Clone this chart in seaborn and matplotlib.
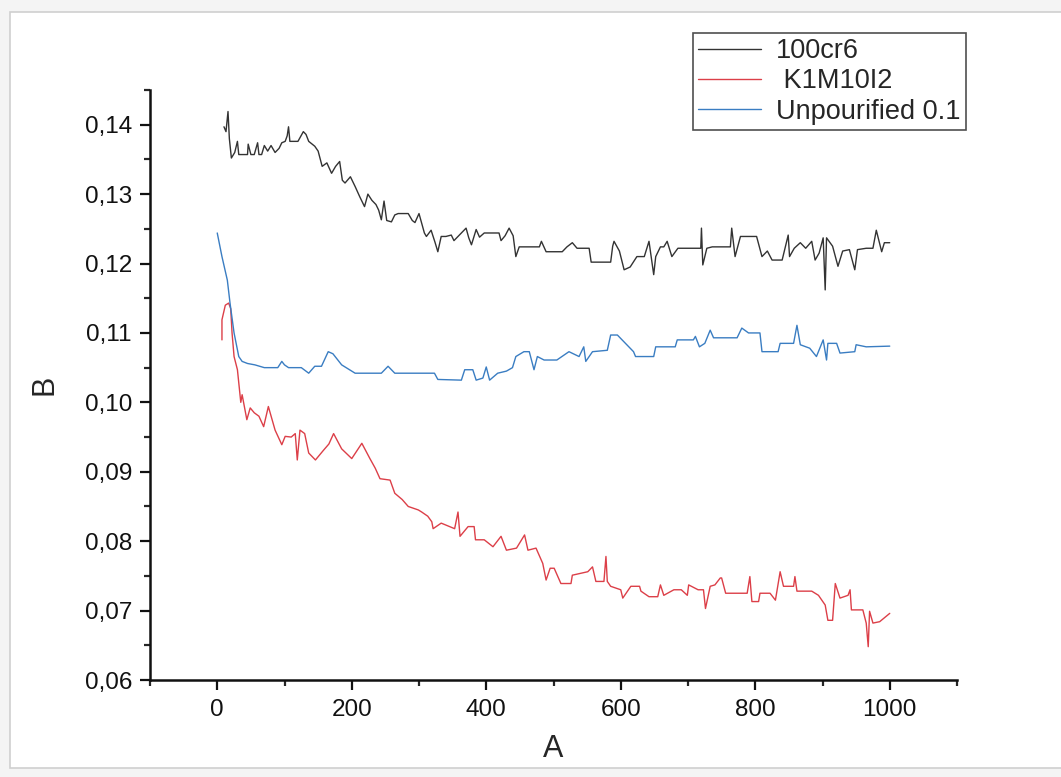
import matplotlib
matplotlib.use("Agg")
import matplotlib.pyplot as plt
from matplotlib.patches import Rectangle
from matplotlib.ticker import MultipleLocator, FuncFormatter
import pandas as pd
import seaborn as sns

# 100cr6
x_cr6 = [10, 13, 16, 18, 21, 26, 30, 32, 38, 45, 46, 50, 55, 60, 62, 66, 70, 75, 80, 86, 92, 96,
         101, 104, 106, 108, 115, 120, 128, 132, 136, 145, 150, 156, 163, 170, 176, 182, 186, 190,
         198, 205, 212, 219, 224, 230, 236, 240, 244, 248, 252, 259, 264, 269, 276, 284, 290, 294,
         300, 304, 308, 311, 318, 324, 328, 333, 340, 348, 352, 360, 370, 374, 378, 385, 390, 397,
         408, 419, 422, 428, 434, 440, 444, 449, 460, 479, 482, 489, 500, 513, 520, 528, 535, 553,
         556, 570, 585, 588, 590, 598, 605, 614, 624, 635, 642, 649, 652, 659, 664, 669, 676, 685,
         693, 705, 719, 720, 722, 728, 736, 750, 763, 765, 770, 778, 790, 802, 810, 818, 825, 840,
         849, 851, 858, 867, 875, 884, 889, 895, 901, 904, 906, 915, 923, 930, 940, 948, 952, 965,
         975, 980, 988, 992, 1000]
y_cr6 = [0.1397, 0.1390, 0.1419, 0.1380, 0.1352, 0.1360, 0.1376, 0.1357, 0.1357, 0.1357, 0.1372,
         0.1357, 0.1357, 0.1374, 0.1357, 0.1357, 0.1370, 0.1362, 0.1370, 0.1360, 0.1366, 0.1374,
         0.1376, 0.1384, 0.1397, 0.1376, 0.1376, 0.1376, 0.1390, 0.1386, 0.1376, 0.1369, 0.1362,
         0.1340, 0.1345, 0.1330, 0.1340, 0.1347, 0.1320, 0.1316, 0.1325, 0.1311, 0.1296, 0.1282,
         0.1300, 0.1291, 0.1285, 0.1277, 0.1263, 0.1290, 0.1262, 0.1260, 0.1270, 0.1272, 0.1272,
         0.1272, 0.1262, 0.1259, 0.1272, 0.1258, 0.1244, 0.1239, 0.1248, 0.1230, 0.1217, 0.1239,
         0.1239, 0.1241, 0.1233, 0.1241, 0.1251, 0.1237, 0.1227, 0.1249, 0.1238, 0.1244, 0.1244,
         0.1244, 0.1233, 0.1240, 0.1251, 0.1240, 0.1210, 0.1224, 0.1224, 0.1224, 0.1232, 0.1217,
         0.1217, 0.1217, 0.1224, 0.1230, 0.1222, 0.1222, 0.1202, 0.1202, 0.1202, 0.1225, 0.1232,
         0.1218, 0.1191, 0.1195, 0.1210, 0.1210, 0.1232, 0.1184, 0.1210, 0.1224, 0.1224, 0.1232,
         0.1210, 0.1222, 0.1222, 0.1222, 0.1222, 0.1251, 0.1198, 0.1222, 0.1224, 0.1224, 0.1224,
         0.1251, 0.1210, 0.1239, 0.1239, 0.1239, 0.1210, 0.1218, 0.1205, 0.1205, 0.1241, 0.1210,
         0.1222, 0.1230, 0.1222, 0.1232, 0.1205, 0.1215, 0.1237, 0.1162, 0.1237, 0.1225, 0.1196,
         0.1218, 0.1220, 0.1191, 0.1220, 0.1222, 0.1222, 0.1248, 0.1217, 0.1230, 0.1230]

# K1M10I2
x_k1 = [7, 7, 12, 17, 20, 22, 25, 30, 35, 37, 44, 49, 55, 62, 69, 76, 86, 96, 101, 110, 116, 119,
        123, 130, 136, 146, 158, 166, 173, 185, 200, 215, 227, 235, 242, 257, 264, 275, 284, 299,
        304, 313, 319, 321, 333, 353, 358, 361, 373, 382, 384, 397, 410, 422, 430, 445, 457, 462,
        474, 484, 489, 495, 501, 511, 526, 528, 551, 558, 563, 575, 578, 580, 585, 600, 603, 615,
        628, 630, 642, 655, 659, 664, 679, 690, 699, 701, 715, 723, 726, 733, 740, 748, 750, 756,
        788, 792, 795, 805, 807, 822, 830, 837, 842, 857, 859, 862, 884, 894, 904, 908, 915, 919,
        926, 938, 941, 943, 960, 965, 968, 970, 975, 985, 1000]
y_k1 = [0.1090, 0.1119, 0.1140, 0.1143, 0.1135, 0.1100, 0.1066, 0.1047, 0.1000, 0.1011, 0.0975,
        0.0992, 0.0985, 0.0980, 0.0965, 0.0994, 0.0960, 0.0939, 0.0951, 0.0950, 0.0955, 0.0917,
        0.0960, 0.0955, 0.0927, 0.0917, 0.0931, 0.0940, 0.0955, 0.0933, 0.0919, 0.0941, 0.0919,
        0.0905, 0.0890, 0.0888, 0.0869, 0.0860, 0.0850, 0.0845, 0.0842, 0.0836, 0.0828, 0.0818,
        0.0826, 0.0818, 0.0842, 0.0807, 0.0821, 0.0821, 0.0802, 0.0802, 0.0792, 0.0807, 0.0787,
        0.0790, 0.0809, 0.0787, 0.0790, 0.0768, 0.0744, 0.0761, 0.0761, 0.0739, 0.0739, 0.0751,
        0.0756, 0.0763, 0.0742, 0.0742, 0.0778, 0.0742, 0.0735, 0.0730, 0.0718, 0.0735, 0.0735,
        0.0728, 0.0720, 0.0720, 0.0737, 0.0722, 0.0730, 0.0730, 0.0722, 0.0737, 0.0730, 0.0730,
        0.0703, 0.0735, 0.0737, 0.0747, 0.0747, 0.0725, 0.0725, 0.0749, 0.0713, 0.0713, 0.0725,
        0.0725, 0.0715, 0.0756, 0.0735, 0.0735, 0.0749, 0.0728, 0.0728, 0.0722, 0.0708, 0.0686,
        0.0686, 0.0739, 0.0718, 0.0722, 0.0730, 0.0701, 0.0701, 0.0682, 0.0648, 0.0699, 0.0682,
        0.0684, 0.0696]

# Unpourified 0.1
x_un = [0, 7, 15, 19, 25, 32, 37, 45, 56, 70, 79, 90, 96, 100, 106, 125, 136, 145, 155, 165, 172,
        185, 205, 244, 254, 264, 323, 328, 363, 368, 380, 385, 395, 400, 405, 417, 430, 439, 444,
        456, 464, 471, 476, 486, 505, 523, 538, 545, 548, 558, 580, 585, 595, 605, 619, 622, 649,
        652, 681, 684, 708, 711, 717, 725, 733, 738, 773, 780, 790, 807, 810, 834, 837, 857, 862,
        867, 881, 891, 901, 906, 908, 921, 926, 948, 950, 965, 1000]
y_un = [0.1244, 0.1210, 0.1176, 0.1143, 0.1100, 0.1066, 0.1059, 0.1056, 0.1054, 0.1050, 0.1050,
        0.1050, 0.1059, 0.1054, 0.1050, 0.1050, 0.1042, 0.1052, 0.1052, 0.1073, 0.1070, 0.1054,
        0.1042, 0.1042, 0.1052, 0.1042, 0.1042, 0.1033, 0.1032, 0.1047, 0.1047, 0.1032, 0.1035,
        0.1051, 0.1032, 0.1042, 0.1045, 0.1050, 0.1066, 0.1073, 0.1073, 0.1047, 0.1066, 0.1061,
        0.1061, 0.1073, 0.1066, 0.1080, 0.1059, 0.1073, 0.1075, 0.1097, 0.1097, 0.1087, 0.1073,
        0.1066, 0.1066, 0.1080, 0.1080, 0.1090, 0.1090, 0.1095, 0.1080, 0.1085, 0.1104, 0.1093,
        0.1093, 0.1107, 0.1100, 0.1100, 0.1073, 0.1073, 0.1085, 0.1085, 0.1111, 0.1083, 0.1078,
        0.1066, 0.1090, 0.1061, 0.1085, 0.1085, 0.1071, 0.1073, 0.1083, 0.1080, 0.1081]

labels = ["100cr6", " K1M10I2", "Unpourified 0.1"]
colors = ["#333333", "#dc3f48", "#3a7dc2"]

df = pd.concat([
    pd.DataFrame({"A": x_cr6, "B": y_cr6, "series": labels[0]}),
    pd.DataFrame({"A": x_k1, "B": y_k1, "series": labels[1]}),
    pd.DataFrame({"A": x_un, "B": y_un, "series": labels[2]}),
])

sns.set_style("ticks")
plt.rcParams["font.family"] = ["Liberation Sans", "DejaVu Sans"]

fig = plt.figure(figsize=(10.61, 7.77), dpi=100, facecolor="#f4f4f4")
frame = Rectangle((10 / 1061, 0.012), 1.0, 0.973, transform=fig.transFigure,
                  facecolor="white", edgecolor="#cfcfcf", linewidth=1.2, zorder=-10)
fig.patches.append(frame)
ax = fig.add_axes([150 / 1061, 97 / 777, 807 / 1061, 590 / 777])
ax.set_zorder(1)
ax.patch.set_alpha(0)

sns.lineplot(data=df, x="A", y="B", hue="series", palette=colors, estimator=None,
             sort=False, linewidth=1.0, ax=ax)

ax.set_xlim(-100, 1100)
ax.set_ylim(0.06, 0.145)
ax.xaxis.set_major_locator(MultipleLocator(200))
ax.xaxis.set_minor_locator(MultipleLocator(100))
ax.yaxis.set_major_locator(MultipleLocator(0.01))
ax.yaxis.set_minor_locator(MultipleLocator(0.005))
ax.yaxis.set_major_formatter(FuncFormatter(lambda v, p: f"{v:.2f}".replace(".", ",")))
ax.tick_params(which="major", direction="out", length=7, width=1.6, labelsize=17.5, colors="#111111")
ax.tick_params(which="minor", direction="out", length=4, width=1.6)
ax.tick_params(axis="x", pad=7)
ax.tick_params(axis="y", pad=6)
for s in ["top", "right"]:
    ax.spines[s].set_visible(False)
for s in ["left", "bottom"]:
    ax.spines[s].set_linewidth(1.8)
    ax.spines[s].set_color("#111111")

ax.set_xlabel("A", fontsize=22, labelpad=9)
ax.set_ylabel("B", fontsize=22, labelpad=18)

handles, _ = ax.get_legend_handles_labels()
leg = ax.legend(handles, labels, loc="upper left", bbox_to_anchor=(693 / 1061, 1 - 33 / 777),
                bbox_transform=fig.transFigure, fontsize=19.5, frameon=True, fancybox=False,
                edgecolor="#222222", handlelength=2.3, handletextpad=0.55, labelspacing=0.15,
                borderpad=0.2, borderaxespad=0)
leg.get_frame().set_linewidth(1.2)

fig.savefig("out.png", dpi=100, facecolor=fig.get_facecolor())
